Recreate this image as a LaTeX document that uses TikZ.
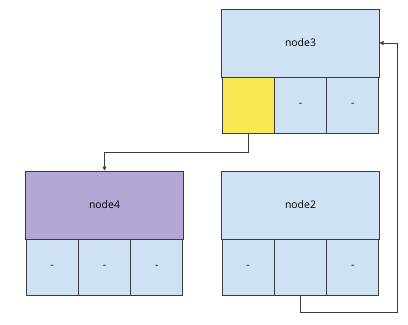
\documentclass[tikz,border=0pt]{standalone}
\usepackage{fontspec}
\setmainfont{Open Sans}
\usetikzlibrary{arrows.meta}
\definecolor{lblue}{RGB}{207,226,243}
\definecolor{lpurple}{RGB}{180,167,214}
\definecolor{lyellow}{RGB}{247,232,80}
\definecolor{edge}{RGB}{60,60,60}
\tikzset{
  cell/.style={draw=edge, line width=1bp, fill=lblue, inner sep=0pt, minimum width=52.33bp, minimum height=56bp, font=\fontsize{10.5}{12}\selectfont},
  head/.style={draw=edge, line width=1bp, fill=lblue, inner sep=0pt, minimum width=157bp, minimum height=68bp, font=\fontsize{10.5}{12}\selectfont},
  conn/.style={draw=edge, line width=0.7bp, -{Triangle[length=4bp,width=4bp]}}
}
\begin{document}
\begin{tikzpicture}[x=1bp,y=-1bp]
\useasboundingbox (0,0) rectangle (408,325);
% node3
\node[head] (n3) at (300.5,43) {node3};
\node[cell, fill=lyellow] (n3a) at (248.17,105) {};
\node[cell] (n3b) at (300.5,105) {-};
\node[cell] (n3c) at (352.83,105) {-};
% node4
\node[head, fill=lpurple] (n4) at (104.5,205) {node4};
\node[cell] (n4a) at (52.17,267) {-};
\node[cell] (n4b) at (104.5,267) {-};
\node[cell] (n4c) at (156.83,267) {-};
% node2
\node[head] (n2) at (300.5,205) {node2};
\node[cell] (n2a) at (248.17,267) {-};
\node[cell] (n2b) at (300.5,267) {};
\node[cell] (n2c) at (352.83,267) {-};
% connectors
\coordinate (c1) at (248.17,152);
\coordinate (c2) at (104.5,152);
\draw[conn] (n3a.south) -- (c1) -- (c2) -- (n4.north);
\coordinate (d1) at (300.5,312);
\coordinate (d2) at (397,312);
\coordinate (d3) at (397,43);
\draw[conn] (n2b.south) -- (d1) -- (d2) -- (d3) -- (n3.east);
\end{tikzpicture}
\end{document}
